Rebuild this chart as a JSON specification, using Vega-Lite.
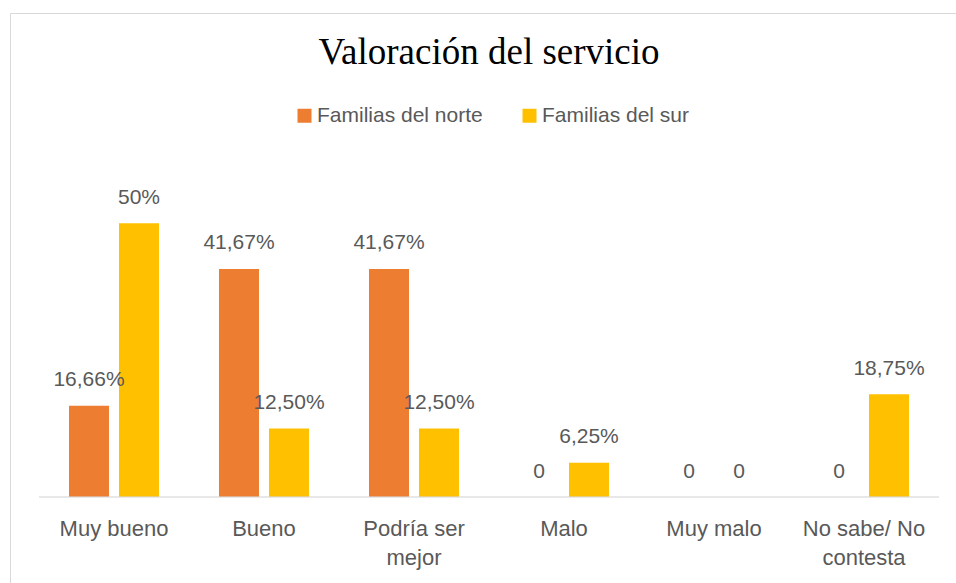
{
  "$schema": "https://vega.github.io/schema/vega-lite/v6.json",
  "autosize": {"type": "none"},
  "padding": {"left": 10, "top": 13, "right": 0, "bottom": 0},
  "width": 946,
  "height": 570,
  "background": "white",
  "title": {"text": "Valoración del servicio", "font": "Liberation Serif", "fontSize": 37, "fontWeight": "normal", "color": "#000000", "anchor": "middle", "frame": "group", "baseline": "alphabetic", "offset": 0, "dy": 88, "dx": 6},
  "data": {"values": [
    {"categoria": "Muy bueno", "serie": "Familias del norte", "valor": 16.66, "etiqueta": "16,66%"},
    {"categoria": "Muy bueno", "serie": "Familias del sur", "valor": 50, "etiqueta": "50%"},
    {"categoria": "Bueno", "serie": "Familias del norte", "valor": 41.67, "etiqueta": "41,67%"},
    {"categoria": "Bueno", "serie": "Familias del sur", "valor": 12.5, "etiqueta": "12,50%"},
    {"categoria": "Podría ser mejor", "serie": "Familias del norte", "valor": 41.67, "etiqueta": "41,67%"},
    {"categoria": "Podría ser mejor", "serie": "Familias del sur", "valor": 12.5, "etiqueta": "12,50%"},
    {"categoria": "Malo", "serie": "Familias del norte", "valor": 0, "etiqueta": "0"},
    {"categoria": "Malo", "serie": "Familias del sur", "valor": 6.25, "etiqueta": "6,25%"},
    {"categoria": "Muy malo", "serie": "Familias del norte", "valor": 0, "etiqueta": "0"},
    {"categoria": "Muy malo", "serie": "Familias del sur", "valor": 0, "etiqueta": "0"},
    {"categoria": "No sabe/ No contesta", "serie": "Familias del norte", "valor": 0, "etiqueta": "0"},
    {"categoria": "No sabe/ No contesta", "serie": "Familias del sur", "valor": 18.75, "etiqueta": "18,75%"}
  ]},
  "config": {"view": {"stroke": null}},
  "layer": [
    {
      "mark": {"type": "bar"},
      "encoding": {
        "x": {"field": "categoria", "type": "nominal", "sort": null,
          "scale": {"paddingInner": 0.4, "paddingOuter": 0.3533, "align": 0.5566},
          "axis": {"orient": "bottom", "offset": -86, "domain": false, "ticks": false, "grid": false, "labelPadding": 21, "labelAngle": 0, "labelFont": "Liberation Sans", "labelFontSize": 22, "labelColor": "#595959", "labelLineHeight": 29, "labelLimit": 0, "title": null,
            "labelExpr": "datum.value == 'Podría ser mejor' ? ['Podría ser', 'mejor'] : datum.value == 'No sabe/ No contesta' ? ['No sabe/ No', 'contesta'] : datum.label"}},
        "xOffset": {"field": "serie", "type": "nominal", "sort": ["Familias del norte", "Familias del sur"], "scale": {"paddingInner": 0.2, "paddingOuter": 0}},
        "y": {"field": "valor", "type": "quantitative",
          "scale": {"domain": [-15.71, 88.42], "nice": false, "zero": false},
          "axis": {"orient": "left", "labels": false, "ticks": false, "grid": false, "domain": true, "domainColor": "#d9d9d9", "domainWidth": 1, "title": null}},
        "y2": {"datum": 0},
        "color": {"field": "serie", "type": "nominal",
          "scale": {"domain": ["Familias del norte", "Familias del sur"], "range": ["#ED7D31", "#FFC000"]},
          "legend": {"title": null, "orient": "none", "direction": "horizontal", "legendX": 284, "legendY": 92, "symbolType": "square", "symbolSize": 196, "symbolStrokeWidth": 0, "labelFont": "Liberation Sans", "labelFontSize": 21, "labelColor": "#595959", "labelOffset": 2, "labelLimit": 0, "columnPadding": 36, "padding": 0}}
      }
    },
    {
      "mark": {"type": "text", "baseline": "alphabetic", "dy": -19.5, "font": "Liberation Sans", "fontSize": 21, "color": "#595959"},
      "encoding": {
        "x": {"field": "categoria", "type": "nominal", "sort": null, "axis": null},
        "xOffset": {"field": "serie", "type": "nominal", "sort": ["Familias del norte", "Familias del sur"]},
        "y": {"field": "valor", "type": "quantitative"},
        "text": {"field": "etiqueta"}
      }
    },
    {
      "mark": {"type": "tick", "orient": "horizontal", "size": 150, "thickness": 1, "color": "#d9d9d9"},
      "encoding": {
        "x": {"field": "categoria", "type": "nominal", "sort": null,
          "axis": {"orient": "top", "labels": false, "ticks": false, "grid": false, "domain": true, "domainColor": "#d9d9d9", "domainWidth": 1, "title": null}},
        "y": {"datum": 0}
      }
    }
  ],
  "resolve": {"axis": {"x": "independent"}}
}
